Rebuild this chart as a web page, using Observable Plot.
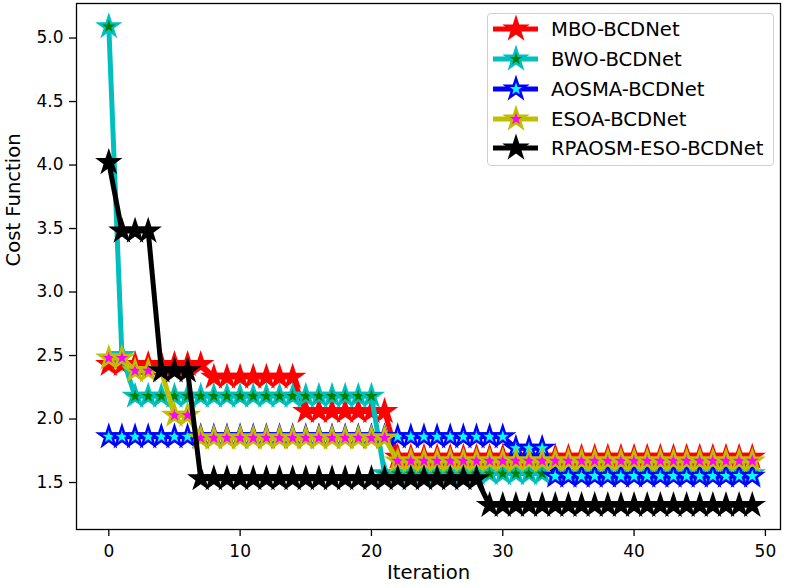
<!DOCTYPE html>
<html><head><meta charset="utf-8">
<script src="https://cdn.jsdelivr.net/npm/d3@7"></script>
<script src="https://cdn.jsdelivr.net/npm/@observablehq/plot@0.6"></script>
<style>
body{margin:0;background:#fff;}
#wrap{position:relative;width:786px;height:588px;font-family:"DejaVu Sans",sans-serif;}
#legend{position:absolute;left:487px;top:13px;width:287px;height:153px;box-sizing:border-box;border:1.3px solid #d0d0d0;border-radius:4px;background:rgba(255,255,255,0.85);}
.row{position:absolute;left:0;height:30px;display:flex;align-items:center;}
.row span{font-size:19.6px;color:#000;margin-left:8px;white-space:nowrap;}
</style></head><body><div id="wrap"></div>
<script>
const iterations = d3.range(50);
const seriesNames = ["MBO-BCDNet", "BWO-BCDNet", "AOSMA-BCDNet", "ESOA-BCDNet", "RPAOSM-ESO-BCDNet"];
const lineColors = ["#ff0000", "#00bfbf", "#0000ff", "#bfbf00", "#000000"];
const faceColors = ["#ff0000", "#008000", "#00ffff", "#ff00ff", "#000000"];
const xTicks = [0, 10, 20, 30, 40, 50];
const yTicks = [1.5, 2.0, 2.5, 3.0, 3.5, 4.0, 4.5, 5.0];

const mbo = [2.43,2.43,2.43,2.43,2.43,2.43,2.43,2.43,
  2.33,2.33,2.33,2.33,2.33,2.33,2.33,
  2.06,2.06,2.06,2.06,2.06,2.06,2.06,
  1.70,1.70,1.70,1.70,1.70,1.70,1.70,1.70,1.70,1.70,1.70,1.70,1.70,1.70,1.70,1.70,1.70,1.70,1.70,1.70,1.70,1.70,1.70,1.70,1.70,1.70,1.70,1.70];
const bwo = [5.09, 2.50,
  2.18,2.18,2.18,2.18,2.18,2.18,2.18,2.18,2.18,2.18,2.18,2.18,2.18,2.18,2.18,2.18,2.18,2.18,2.18,
  1.57,1.57,1.57,1.57,1.57,1.57,1.57,1.57,1.57,1.57,1.57,1.57,1.57,1.57,1.57,1.57,1.57,1.57,1.57,1.57,1.57,1.57,1.57,1.57,1.57,1.57,1.57,1.57,1.57];
const aosma = [1.86,1.86,1.86,1.86,1.86,1.86,1.86,1.86,1.86,1.86,1.86,1.86,1.86,1.86,1.86,1.86,1.86,1.86,1.86,1.86,1.86,1.86,1.86,1.86,1.86,1.86,1.86,1.86,1.86,1.86,1.86,
  1.77,1.77,1.77,
  1.55,1.55,1.55,1.55,1.55,1.55,1.55,1.55,1.55,1.55,1.55,1.55,1.55,1.55,1.55,1.55];
const esoa = [2.48,2.48,2.38,2.38,2.38,2.03,2.03,
  1.85,1.85,1.85,1.85,1.85,1.85,1.85,1.85,1.85,1.85,1.85,1.85,1.85,1.85,1.85,
  1.67,1.67,1.67,1.67,1.67,1.67,1.67,1.67,1.67,1.67,1.67,1.67,1.67,1.67,1.67,1.67,1.67,1.67,1.67,1.67,1.67,1.67,1.67,1.67,1.67,1.67,1.67,1.67];
const rpaosm = [4.02,3.48,3.48,3.48,2.38,2.38,2.38,
  1.53,1.53,1.53,1.53,1.53,1.53,1.53,1.53,1.53,1.53,1.53,1.53,1.53,1.53,1.53,1.53,1.53,1.53,1.53,1.53,1.53,1.53,
  1.32,1.32,1.32,1.32,1.32,1.32,1.32,1.32,1.32,1.32,1.32,1.32,1.32,1.32,1.32,1.32,1.32,1.32,1.32,1.32,1.32];

const allSeries = [mbo, bwo, aosma, esoa, rpaosm];
const STAR_R = 6.3;

const marks = [];
allSeries.forEach((vals, k) => {
  const rows = vals.map((v, i) => ({iter: iterations[i], value: v}));
  marks.push(Plot.line(rows, {x: "iter", y: "value", stroke: lineColors[k], strokeWidth: 5, strokeLinejoin: "round"}));
  marks.push(Plot.dot(rows, {x: "iter", y: "value", symbol: "star", r: STAR_R, fill: faceColors[k], stroke: lineColors[k], strokeWidth: 2.4}));
});

const chart = Plot.plot({
  width: 786, height: 588,
  marginLeft: 76, marginRight: 6, marginTop: 3, marginBottom: 59,
  style: {fontFamily: "DejaVu Sans, sans-serif", fontSize: "17px", color: "#000", background: "#fff"},
  x: {domain: [-2.46, 51.15], label: null},
  y: {domain: [1.13, 5.272], label: null},
  marks: [
    ...marks,
    Plot.frame({stroke: "#000", strokeWidth: 1.3}),
    Plot.axisX({ticks: xTicks, tickSize: 7, tickPadding: 8, label: null, strokeWidth: 1.3}),
    Plot.axisY({ticks: yTicks, tickSize: 7, tickPadding: 6, tickFormat: d3.format(".1f"), label: null, strokeWidth: 1.3}),
    Plot.text(["Iteration"], {frameAnchor: "bottom", dy: 49, fontSize: 19.6}),
    Plot.text(["Cost Function"], {frameAnchor: "left", dx: -63, rotate: -90, fontSize: 19.6})
  ]
});
const wrap = document.getElementById("wrap");
wrap.appendChild(chart);

// legend
const legend = document.createElement("div");
legend.id = "legend";
const rowCenters = [15, 45, 75, 105, 134];
seriesNames.forEach((name, k) => {
  const row = document.createElement("div");
  row.className = "row";
  row.style.top = (rowCenters[k] - 15) + "px";
  const svg = d3.create("svg").attr("width", 55).attr("height", 30);
  svg.append("line").attr("x1", 5).attr("x2", 50).attr("y1", 15).attr("y2", 15)
    .attr("stroke", lineColors[k]).attr("stroke-width", 5);
  svg.append("path").attr("transform", "translate(28,15)")
    .attr("d", d3.symbol(d3.symbolStar, STAR_R * STAR_R * Math.PI)())
    .attr("fill", faceColors[k]).attr("stroke", lineColors[k]).attr("stroke-width", 2.4);
  row.appendChild(svg.node());
  const span = document.createElement("span");
  span.textContent = name;
  row.appendChild(span);
  legend.appendChild(row);
});
wrap.appendChild(legend);
</script></body></html>
